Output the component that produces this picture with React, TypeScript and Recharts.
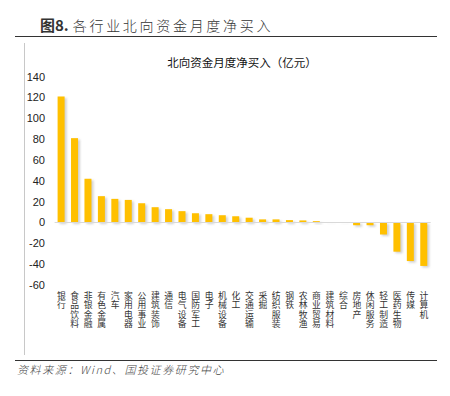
import React from "react";
import { BarChart, Bar, XAxis, YAxis, ReferenceLine } from "recharts";

const categories = [
  "银行", "食品饮料", "非银金融", "有色金属", "汽车", "家用电器", "公用事业",
  "建筑装饰", "通信", "电气设备", "国防军工", "电子", "机械设备", "化工",
  "交通运输", "采掘", "纺织服装", "钢铁", "农林牧渔", "商业贸易", "建筑材料",
  "综合", "房地产", "休闲服务", "轻工制造", "医药生物", "传媒", "计算机",
];
const netBuy = [
  121, 81, 42, 25.3, 22.7, 21.7, 18.5,
  14.7, 12.8, 10.9, 8.9, 8, 7, 6,
  4.6, 3, 3, 2.3, 2, 1.3, 0.2,
  -0.2, -2.6, -2.6, -11.5, -28, -37, -41.7,
];
const yTicks = [-60, -40, -20, 0, 20, 40, 60, 80, 100, 120, 140];

const data = categories.map((name, i) => ({ name, value: netBuy[i] }));

const SANS = "'Liberation Sans', Arial, 'Noto Sans CJK SC', sans-serif";
const CJK = "'Noto Sans CJK SC', sans-serif";

const XTick = (props: any) => {
  const { x, y, payload } = props;
  return (
    <text
      x={x}
      y={y + 6.5}
      textAnchor="start"
      fontSize={8.8}
      fill="#333"
      fontFamily={CJK}
      style={{ writingMode: "vertical-rl", letterSpacing: 0.4 }}
    >
      {String(payload.value)}
    </text>
  );
};

const ShadowBar = (props: any) => {
  const { x, y, width, height } = props;
  if (width == null || height == null) return null;
  const h = Math.abs(height);
  const top = height < 0 ? y + height : y;
  if (h < 0.01) return null;
  return (
    <g>
      <rect x={x + 2} y={top + 1.5} width={width} height={h} fill="#999" opacity={0.45} filter="url(#blurShadow)" />
      <rect x={x} y={top} width={width} height={h} fill="#FFC000" />
    </g>
  );
};

export default function App() {
  return (
    <div style={{ position: "absolute", left: 0, top: 0, width: 450, height: 396, background: "#fff", overflow: "hidden" }}>
      <div style={{ position: "absolute", left: 40, top: 15, whiteSpace: "nowrap", color: "#333", lineHeight: "20px" }}>
        <span style={{ fontFamily: CJK, fontWeight: 700, fontSize: 15 }}>图8.</span>
        <span style={{ fontFamily: CJK, fontWeight: 300, fontSize: 14, letterSpacing: 2.7, marginLeft: 4 }}>各行业北向资金月度净买入</span>
      </div>
      <div style={{ position: "absolute", left: 15, top: 35.5, width: 422, height: 1.5, background: "#333" }} />
      <div style={{ position: "absolute", left: 24, top: 43, width: 1, height: 312, background: "#c8c8c8" }} />
      <div style={{ position: "absolute", left: 142, width: 200, top: 54, textAlign: "center", fontFamily: CJK, fontSize: 11.5, color: "#111", whiteSpace: "nowrap", lineHeight: "16px" }}>
        北向资金月度净买入（亿元）
      </div>
      <div style={{ position: "absolute", left: 0, top: 0 }}>
        <BarChart
          width={450}
          height={396}
          data={data}
          margin={{ top: 76.7, right: 19.3, bottom: 71, left: 20 }}
          barSize={7}
        >
          <defs>
            <filter id="blurShadow" x="-50%" y="-50%" width="200%" height="200%">
              <feGaussianBlur stdDeviation="1" />
            </filter>
          </defs>
          <XAxis
            dataKey="name"
            interval={0}
            axisLine={false}
            tickLine={false}
            tickSize={0}
            tickMargin={0}
            height={40}
            tick={<XTick />}
          />
          <YAxis
            domain={[-60, 140]}
            ticks={yTicks}
            interval={0}
            axisLine={false}
            tickLine={false}
            tickSize={0}
            tickMargin={9.6}
            width={34.6}
            tick={{ fontSize: 11, fill: "#222", fontFamily: SANS }}
          />
          <ReferenceLine y={0} stroke="#d9d9d9" strokeWidth={1} />
          <Bar dataKey="value" isAnimationActive={false} shape={<ShadowBar />} />
        </BarChart>
      </div>
      <div style={{ position: "absolute", left: 15, top: 359.8, width: 422, height: 1.5, background: "#333" }} />
      <div style={{ position: "absolute", left: 17, top: 362, fontFamily: CJK, fontStyle: "italic", fontSize: 11, letterSpacing: 1.6, color: "#444", whiteSpace: "nowrap", lineHeight: "14px", fontWeight: 300 }}>
        资料来源：Wind、国投证券研究中心
      </div>
    </div>
  );
}
